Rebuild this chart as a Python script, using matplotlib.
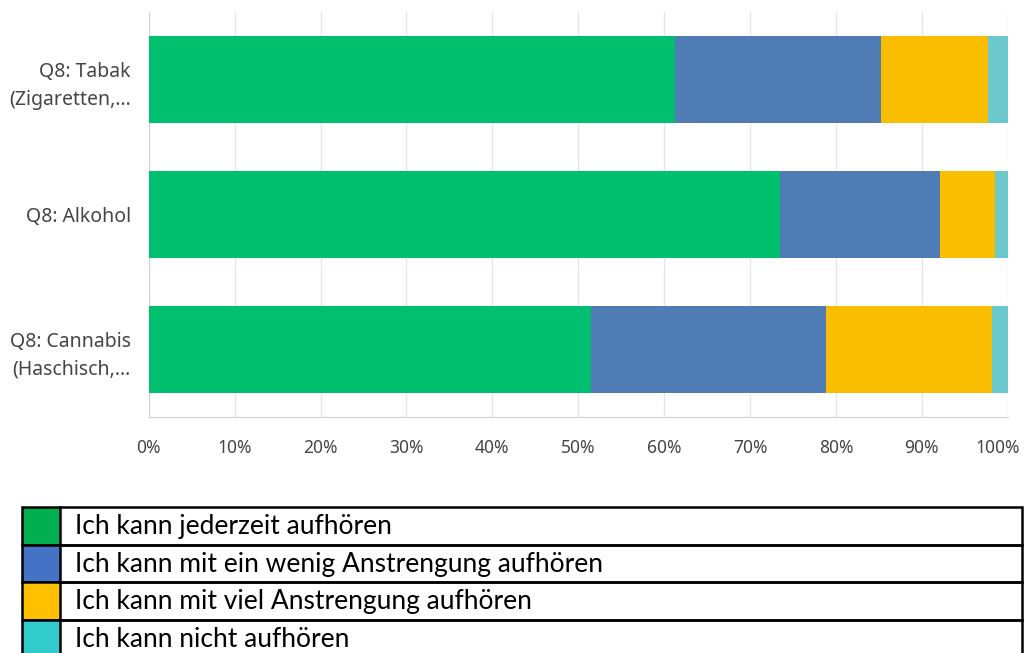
import matplotlib.pyplot as plt
import matplotlib.transforms as mtransforms
from matplotlib.patches import Rectangle
import numpy as np

# data (percent of respondents)
categories = ["Q8: Tabak\n(Zigaretten,...", "Q8: Alkohol", "Q8: Cannabis\n(Haschisch,..."]
series_names = ["Ich kann jederzeit aufhören",
                "Ich kann mit ein wenig Anstrengung aufhören",
                "Ich kann mit viel Anstrengung aufhören",
                "Ich kann nicht aufhören"]
jederzeit = [61.3, 73.5, 51.5]
wenig = [23.9, 18.6, 27.4]
viel = [12.5, 6.4, 19.3]
nicht = [2.3, 1.5, 1.8]

bar_colors = ['#00BF6F', '#507CB6', '#F9BE00', '#6BC8CD']
legend_colors = ['#00B050', '#4472C4', '#FFC000', '#33CCCC']

fig = plt.figure(figsize=(10.26, 6.53), dpi=100)
ax = fig.add_axes([148.7 / 1026, 1 - 417 / 653, (1007.7 - 148.7) / 1026, (417 - 12) / 653])

y = np.arange(len(categories))
left = np.zeros(len(categories))
for vals, col in zip([jederzeit, wenig, viel, nicht], bar_colors):
    ax.barh(y, vals, left=left, height=0.65, color=col, zorder=3)
    left += np.array(vals)

ax.set_xlim(0, 100)
ax.set_ylim(2.5, -0.5)
ax.set_xticks(np.arange(0, 101, 10))
ax.set_xticklabels([f"{t}%" for t in range(0, 101, 10)])
ax.set_yticks(y)
ax.set_yticklabels(categories, linespacing=1.5)
ax.grid(axis='x', color='#e6e6e6', linewidth=1, zorder=0)
for s in ['top', 'right']:
    ax.spines[s].set_visible(False)
ax.spines['left'].set_color('#d0d0d0')
ax.spines['bottom'].set_color('#d0d0d0')
ax.tick_params(axis='both', length=0, labelcolor='#454545')
ax.tick_params(axis='x', pad=16, labelsize=12.5)
ax.tick_params(axis='y', pad=13, labelsize=14)
for lab in ax.get_xticklabels() + ax.get_yticklabels():
    lab.set_fontfamily('Noto Sans')
# the last tick label sits a bit to the left, like in the survey tool
last = ax.get_xticklabels()[-1]
last.set_transform(last.get_transform() + mtransforms.ScaledTranslation(-0.1, 0, fig.dpi_scale_trans))

# legend table below the chart (pixel coordinates of the figure)
lax = fig.add_axes([0, 0, 1, 1])
lax.set_xlim(0, 1026)
lax.set_ylim(653, 0)
lax.axis('off')
row_top = 507
row_h = 37.5
for i, (name, col) in enumerate(zip(series_names, legend_colors)):
    top = row_top + i * row_h
    lax.add_patch(Rectangle((22, top), 38, row_h, facecolor=col, edgecolor='none'))
    lax.add_patch(Rectangle((22, top), 1000, row_h, facecolor='none', edgecolor='black', linewidth=1.8))
    lax.plot([60, 60], [top, top + row_h], color='black', linewidth=1.8)
    lax.text(75, top + row_h / 2 + 1, name, va='center', ha='left', fontsize=19,
             fontfamily='Lato', color='black')

fig.savefig('out.png', dpi=100)
